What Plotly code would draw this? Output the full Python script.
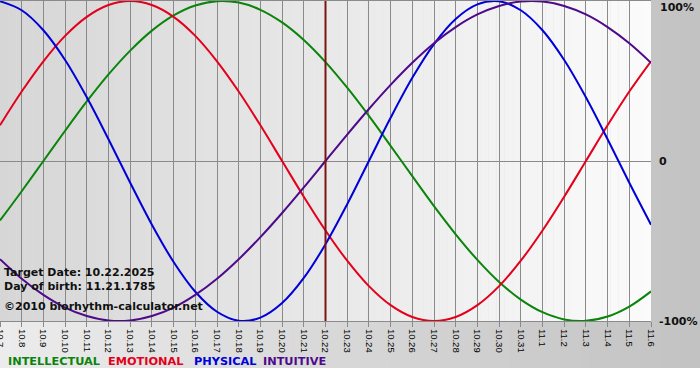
import plotly.graph_objects as go

# ---------------- data ----------------
dates = ["10.7", "10.8", "10.9", "10.10", "10.11", "10.12", "10.13", "10.14",
         "10.15", "10.16", "10.17", "10.18", "10.19", "10.20", "10.21", "10.22",
         "10.23", "10.24", "10.25", "10.26", "10.27", "10.28", "10.29", "10.30",
         "10.31", "11.1", "11.2", "11.3", "11.4", "11.5", "11.6"]

intellectual = [-37.2, -18.9, 0.0, 18.9, 37.2, 54.1, 69.0, 81.5, 91.0, 97.2,
                99.9, 99.0, 94.5, 86.6, 75.6, 61.8, 45.8, 28.2, 9.5, -9.5,
                -28.2, -45.8, -61.8, -75.6, -86.6, -94.5, -99.0, -99.9, -97.2,
                -91.0, -81.5]

emotional = [22.3, 43.4, 62.3, 78.2, 90.1, 97.5, 100.0, 97.5, 90.1, 78.2,
             62.3, 43.4, 22.3, 0.0, -22.3, -43.4, -62.3, -78.2, -90.1, -97.5,
             -100.0, -97.5, -90.1, -78.2, -62.3, -43.4, -22.3, 0.0, 22.3, 43.4,
             62.3]

physical = [99.8, 94.2, 81.7, 63.1, 39.8, 13.6, -13.6, -39.8, -63.1, -81.7,
            -94.2, -99.8, -97.9, -88.8, -73.1, -52.0, -27.0, 0.0, 27.0, 52.0,
            73.1, 88.8, 97.9, 99.8, 94.2, 81.7, 63.1, 39.8, 13.6, -13.6,
            -39.8]

intuitive = [-61.4, -73.6, -83.7, -91.6, -96.9, -99.7, -99.7, -96.9, -91.6,
             -83.7, -73.6, -61.4, -47.6, -32.5, -16.5, 0.0, 16.5, 32.5, 47.6,
             61.4, 73.6, 83.7, 91.6, 96.9, 99.7, 99.7, 96.9, 91.6, 83.7, 73.6,
             61.4]

series_names = ["INTELLECTUAL", "EMOTIONAL", "PHYSICAL", "INTUITIVE"]
y_tick_vals = [-100, 0, 100]
y_tick_text = ["-100%", "0", ""]
target_date = "10.22"
info_lines = ["Target Date: 10.22.2025", "Day of birth: 11.21.1785",
              "\u00a92010 biorhythm-calculator.net"]

# ---------------- styling ----------------
colors = {"INTELLECTUAL": "#0a840a", "EMOTIONAL": "#e3001b",
          "PHYSICAL": "#0000d8", "INTUITIVE": "#4e0a8a"}
values = {"INTELLECTUAL": intellectual, "EMOTIONAL": emotional,
          "PHYSICAL": physical, "INTUITIVE": intuitive}

W, H = 700, 380
ML, MR, MT, MB = 0, 49, 1, 59
PW, PH = W - ML - MR, H - MT - MB
BOLD = "DejaVu Sans"


def px_x(x):
    """figure pixel x -> plotly paper coordinate"""
    return (x - ML) / PW


def px_y(y):
    """figure pixel y (from top) -> plotly paper coordinate"""
    return (H - MB - y) / PH


fig = go.Figure()
for name in series_names:
    fig.add_trace(go.Scatter(
        x=dates, y=values[name], mode="lines", name=name,
        line=dict(color=colors[name], width=2, shape="spline", smoothing=1.0),
        hoverinfo="skip"))


def lerp(a, b, t):
    return int(round(a + (b - a) * t))


shapes = []
# figure background gradient (light left -> gray right), white strip at bottom
NP = 70
for i in range(NP):
    t = (i + 0.5) / NP
    g = lerp(0xEC, 0xC2, t)
    shapes.append(dict(type="rect", xref="paper", yref="paper",
                       x0=px_x(i * W / NP), x1=px_x((i + 1.05) * W / NP),
                       y0=px_y(368), y1=px_y(0),
                       fillcolor=f"rgb({g},{g},{g})", line=dict(width=0),
                       layer="below"))
# plot area gradient (darker left -> light right)
NB = 80
for i in range(NB):
    t = (i + 0.5) / NB
    g = lerp(0xD6, 0xFB, t)
    shapes.append(dict(type="rect", xref="x domain", yref="y domain",
                       x0=i / NB, x1=min(1, (i + 1.03) / NB), y0=0, y1=1,
                       fillcolor=f"rgb({g},{g},{g})", line=dict(width=0),
                       layer="below"))
# target date marker
ti = dates.index(target_date)
shapes.append(dict(type="line", xref="x", yref="y domain", x0=ti, x1=ti,
                   y0=0, y1=1, line=dict(color="#7c1414", width=2),
                   layer="above"))

annotations = []
info_y = [272.5, 286.5, 306.5]
for txt, yp in zip(info_lines, info_y):
    annotations.append(dict(text=txt, xref="paper", yref="paper",
                            x=px_x(1.5), y=px_y(yp), xanchor="left",
                            yanchor="middle", showarrow=False,
                            font=dict(family=BOLD, size=11, color="#111111",
                                      weight="bold")))
legend_x = [7, 107, 193, 262]
for name, xp in zip(series_names, legend_x):
    annotations.append(dict(text=name, xref="paper", yref="paper",
                            x=px_x(xp - 1.5), y=px_y(361.5),
                            xanchor="left", yanchor="middle", showarrow=False,
                            font=dict(family=BOLD, size=11.3,
                                      color=colors[name], weight="bold")))
annotations.append(dict(text="100%", xref="paper", yref="paper",
                        x=px_x(659 - 1.5), y=px_y(7), xanchor="left",
                        yanchor="middle", showarrow=False,
                        font=dict(family=BOLD, size=11, color="#111111",
                                  weight="bold")))

fig.update_layout(
    width=W, height=H,
    margin=dict(l=ML, r=MR, t=MT, b=MB, pad=0, autoexpand=False),
    paper_bgcolor="#ffffff",
    plot_bgcolor="rgba(0,0,0,0)",
    showlegend=False,
    shapes=shapes,
    annotations=annotations,
    xaxis=dict(
        type="category", categoryorder="array", categoryarray=dates,
        range=[0, len(dates) - 1], automargin=False,
        showgrid=True, gridcolor="#8a8a8a", gridwidth=1,
        ticks="outside", ticklen=5, tickcolor="#8a8a8a", tickwidth=1,
        tickangle=90, tickfont=dict(family="Liberation Sans", size=9.5,
                                    color="#000000"),
        showline=True, linecolor="#8a8a8a", linewidth=1, mirror=True,
        zeroline=False, fixedrange=True),
    yaxis=dict(
        range=[-100, 100], side="right", automargin=False,
        tickvals=y_tick_vals, ticktext=y_tick_text,
        showgrid=True, gridcolor="#8a8a8a", gridwidth=1,
        ticks="", ticklabelstandoff=7,
        tickfont=dict(family=BOLD, size=11, color="#111111", weight="bold"),
        showline=False, zeroline=False, fixedrange=True),
)

fig.write_html("out.html", config={"displayModeBar": False},
               post_script="document.body.style.margin='0';"
                           "document.body.style.padding='0';")
